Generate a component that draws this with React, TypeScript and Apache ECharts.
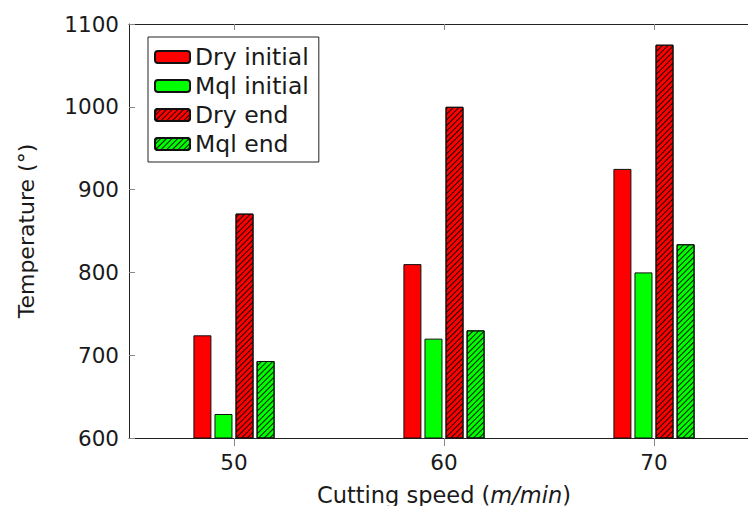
import React, { useEffect, useRef } from "react";
import * as echarts from "echarts";

const speeds = [50, 60, 70];
const dryInitial = [724, 810, 925];
const mqlInitial = [629, 720, 800];
const dryEnd = [871, 1000, 1075];
const mqlEnd = [693, 730, 834];
const seriesNames = ["Dry initial", "Mql initial", "Dry end", "Mql end"];
const yTicks = [600, 700, 800, 900, 1000, 1100];

const FONT = "DejaVu Sans";
const RED = "#ff0000";
const GREEN = "#00ff00";

const hatch = {
  symbol: "rect",
  symbolSize: 1,
  dashArrayX: [1, 0],
  dashArrayY: [1, 2.5],
  rotation: -Math.PI / 4,
  color: "rgba(0,0,0,0.9)",
};

export default function App() {
  const ref = useRef<HTMLDivElement>(null);
  useEffect(() => {
    if (!ref.current) return;
    const chart = echarts.init(ref.current, null, { renderer: "svg" });
    const mk = (name: string, vals: number[], color: string, hatched: boolean) => ({
      name,
      type: "bar",
      xAxisIndex: 0,
      barWidth: 18,
      barGap: "17%",
      data: speeds.map((s, i) => [s, vals[i]]),
      itemStyle: {
        color,
        borderColor: "#111",
        borderWidth: 1,
        ...(hatched ? { decal: hatch } : {}),
      },
    });
    const xCommon = {
      type: "value",
      min: 45,
      max: 75,
      splitLine: { show: false },
      axisLine: { show: true, onZero: false, lineStyle: { color: "#222", width: 1 } },
    };
    chart.setOption({
      animation: false,
      textStyle: { fontFamily: FONT },
      grid: { left: 129, top: 24, width: 630, height: 414, outerBoundsMode: "none", containLabel: false },
      legend: {
        left: 148,
        top: 37,
        orient: "vertical",
        data: seriesNames,
        backgroundColor: "#fff",
        borderColor: "#222",
        borderWidth: 1,
        padding: [8, 10, 6, 6],
        itemWidth: 35,
        itemHeight: 12,
        itemGap: 5,
        textStyle: { fontFamily: FONT, fontSize: 23.5, color: "#1a1a1a", lineHeight: 23 },
      },
      xAxis: [
        {
          ...xCommon,
          position: "bottom",
          axisTick: { show: true, inside: false, length: 8, lineStyle: { color: "#888" }, customValues: speeds },
          axisLabel: {
            show: true,
            customValues: speeds,
            margin: 13,
            fontFamily: FONT,
            fontSize: 21.5,
            color: "#1a1a1a",
          },
          name: "{n|Cutting speed (}{i|m/min}{n|)}",
          nameLocation: "middle",
          nameGap: 45,
          nameTextStyle: {
            rich: {
              n: { fontFamily: FONT, fontSize: 22.5, color: "#1a1a1a" },
              i: { fontFamily: FONT, fontSize: 22.5, fontStyle: "italic", color: "#1a1a1a" },
            },
          },
        },
        {
          ...xCommon,
          position: "top",
          axisTick: { show: true, inside: true, length: 6, lineStyle: { color: "#888" }, customValues: speeds },
          axisLabel: { show: false },
        },
      ],
      yAxis: {
        type: "value",
        min: 600,
        max: 1100,
        interval: 100,
        splitLine: { show: false },
        axisLine: { show: true, lineStyle: { color: "#222", width: 1 } },
        axisTick: { show: true, inside: true, length: 6, lineStyle: { color: "#888" } },
        axisLabel: {
          margin: 10,
          fontFamily: FONT,
          fontSize: 21.5,
          color: "#1a1a1a",
          formatter: (v: number) => (yTicks.includes(v) ? String(v) : ""),
        },
        name: "Temperature (°)",
        nameLocation: "middle",
        nameGap: 92,
        nameTextStyle: { fontFamily: FONT, fontSize: 22, color: "#1a1a1a" },
      },
      series: [
        mk(seriesNames[0], dryInitial, RED, false),
        mk(seriesNames[1], mqlInitial, GREEN, false),
        mk(seriesNames[2], dryEnd, RED, true),
        mk(seriesNames[3], mqlEnd, GREEN, true),
      ],
    });
    return () => chart.dispose();
  }, []);
  return (
    <div
      ref={ref}
      style={{ position: "fixed", left: 0, top: 0, width: 748, height: 506, background: "#fff" }}
    />
  );
}
